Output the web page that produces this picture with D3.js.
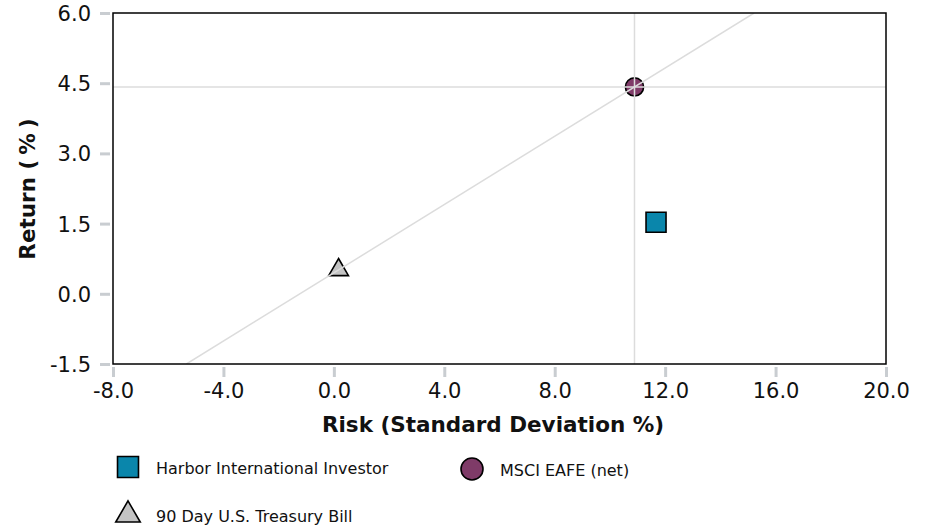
<!DOCTYPE html>
<html>
<head>
<meta charset="utf-8">
<script src="https://cdn.jsdelivr.net/npm/d3@7"></script>
<style>
  body { margin: 0; background: #fff; }
  text { font-family: "DejaVu Sans", Verdana, sans-serif; }
</style>
</head>
<body>
<div class="container"></div>
<script>
// data
var names = ['Harbor International Investor', 'MSCI EAFE (net)', '90 Day U.S. Treasury Bill'];
var risks = [11.67, 10.89, 0.17];
var returns = [1.53, 4.42, 0.51];
var shapes = ['square', 'circle', 'triangle'];
var colors = ['#0a86ab', '#7f3b68', '#c4c4c4'];

var xTicks = [-8, -4, 0, 4, 8, 12, 16, 20];
var yTicks = [-1.5, 0, 1.5, 3, 4.5, 6];

const WIDTH = 930;
const HEIGHT = 529;
const LEFT = 113, RIGHT = 886, TOP = 13, BOTTOM = 364;

var svg = d3.select('.container').append('svg')
    .attr('width', WIDTH)
    .attr('height', HEIGHT);

var xScale = d3.scaleLinear().domain([-8, 20]).range([LEFT, RIGHT]);
var yScale = d3.scaleLinear().domain([-1.5, 6]).range([BOTTOM, TOP]);

var points = names.map(function (n, i) {
    return {name: n, risk: risks[i], ret: returns[i], shape: shapes[i], color: colors[i]};
});

// plain hyphen for negatives, one decimal
var fmt = function (v) { return v.toFixed(1); };

var symbolType = {
    square: d3.symbolSquare,
    circle: d3.symbolCircle,
    triangle: d3.symbolTriangle
};
var symbolSize = {square: 400, circle: 260, triangle: 170};

// points (lines are drawn over them)
svg.append('g').selectAll('path').data(points)
    .enter().append('path')
    .attr('transform', function (d) {
        return 'translate(' + xScale(d.risk) + ',' + yScale(d.ret) + ')';
    })
    .attr('d', function (d) {
        return d3.symbol().type(symbolType[d.shape]).size(symbolSize[d.shape])();
    })
    .attr('fill', function (d) { return d.color; })
    .attr('stroke', '#000').attr('stroke-width', 1.6);

// clip for the lines inside the plot
svg.append('clipPath').attr('id', 'plot')
    .append('rect')
    .attr('x', LEFT).attr('y', TOP)
    .attr('width', RIGHT - LEFT).attr('height', BOTTOM - TOP);

var lines = svg.append('g').attr('clip-path', 'url(#plot)');

// capital market line: risk free -> index, extended
var rf = points[2], mkt = points[1];
var slope = (mkt.ret - rf.ret) / (mkt.risk - rf.risk);
var xAtBottom = rf.risk + (-1.5 - rf.ret) / slope;
var xAtTop = rf.risk + (6 - rf.ret) / slope;
lines.append('line')
    .attr('x1', xScale(xAtBottom)).attr('y1', yScale(-1.5))
    .attr('x2', xScale(xAtTop)).attr('y2', yScale(6))
    .attr('stroke', '#dcdcdc').attr('stroke-width', 1.5);

// crosshair on the index
lines.append('line')
    .attr('x1', xScale(mkt.risk)).attr('x2', xScale(mkt.risk))
    .attr('y1', TOP).attr('y2', BOTTOM)
    .attr('stroke', '#dcdcdc').attr('stroke-width', 1.5);
lines.append('line')
    .attr('x1', LEFT).attr('x2', RIGHT)
    .attr('y1', yScale(mkt.ret)).attr('y2', yScale(mkt.ret))
    .attr('stroke', '#dcdcdc').attr('stroke-width', 1.5);

// axes
var xAxis = d3.axisBottom(xScale).tickValues(xTicks)
    .tickSize(0).tickFormat(fmt);
var yAxis = d3.axisLeft(yScale).tickValues(yTicks)
    .tickSize(0).tickFormat(fmt);

var gx = svg.append('g')
    .attr('transform', 'translate(0,' + BOTTOM + ')')
    .call(xAxis);
gx.select('.domain').remove();
gx.selectAll('.tick').append('line')
    .attr('y1', 3).attr('y2', 13)
    .attr('stroke', '#c9cdd1').attr('stroke-width', 3);
gx.selectAll('.tick text')
    .attr('y', 34).attr('dy', 0)
    .attr('font-size', 21).attr('font-family', 'DejaVu Sans')
    .attr('fill', '#111');

var gy = svg.append('g')
    .attr('transform', 'translate(' + LEFT + ',0)')
    .call(yAxis);
gy.select('.domain').remove();
gy.selectAll('.tick').append('line')
    .attr('x1', -13).attr('x2', -3)
    .attr('stroke', '#c9cdd1').attr('stroke-width', 3);
gy.selectAll('.tick text')
    .attr('x', -22).attr('dy', '0.36em')
    .attr('font-size', 21).attr('font-family', 'DejaVu Sans')
    .attr('fill', '#111');

// plot frame
svg.append('rect')
    .attr('x', LEFT).attr('y', TOP)
    .attr('width', RIGHT - LEFT).attr('height', BOTTOM - TOP)
    .attr('fill', 'none').attr('stroke', '#000').attr('stroke-width', 1.5);

// axis titles
svg.append('text')
    .attr('x', 493).attr('y', 432)
    .attr('text-anchor', 'middle')
    .attr('font-size', 21.5).attr('font-weight', 'bold')
    .attr('fill', '#111')
    .text('Risk (Standard Deviation %)');
var yTitle = svg.append('text')
    .attr('transform', 'translate(35,189) rotate(-90)')
    .attr('text-anchor', 'middle')
    .attr('font-size', 21.5).attr('font-weight', 'bold')
    .attr('fill', '#111');
yTitle.append('tspan').text('Return (');
yTitle.append('tspan').attr('dx', 5).text('%');
yTitle.append('tspan').attr('dx', 5).text(')');

// legend
var legendPos = [[128, 467], [472, 469], [128, 515]];
var legend = svg.append('g').selectAll('g').data(points)
    .enter().append('g')
    .attr('transform', function (d, i) {
        return 'translate(' + legendPos[i][0] + ',' + legendPos[i][1] + ')';
    });
legend.append('path')
    .attr('d', function (d) {
        var size = d.shape === 'circle' ? 380 : (d.shape === 'square' ? 440 : 260);
        return d3.symbol().type(symbolType[d.shape]).size(size)();
    })
    .attr('fill', function (d) { return d.color; })
    .attr('stroke', '#000').attr('stroke-width', 1.6);
legend.append('text')
    .attr('x', 28).attr('y', 7)
    .attr('font-size', 16)
    .attr('fill', '#111')
    .text(function (d) { return d.name; });
</script>
</body>
</html>
